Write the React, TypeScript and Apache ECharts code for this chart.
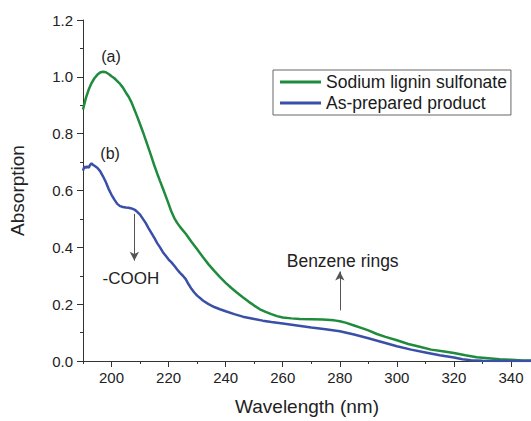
import React, { useEffect, useRef } from "react";
import * as echarts from "echarts";

const greenX = [190, 191, 192, 193, 194, 195, 196, 197, 198, 199, 200, 201, 202, 203, 204, 205, 206, 207, 208, 209, 210, 211, 212, 213, 214, 215, 216, 217, 218, 219, 220, 221, 222, 223, 224, 226, 228, 230, 232, 234, 236, 238, 240, 242, 244, 246, 248, 250, 252, 254, 256, 258, 260, 263, 266, 270, 274, 278, 280, 282, 285, 288, 290, 293, 296, 300, 304, 308, 312, 316, 320, 324, 328, 332, 336, 340, 344, 347];
const greenY = [0.885, 0.925, 0.955, 0.978, 0.995, 1.007, 1.015, 1.018, 1.016, 1.01, 1.002, 0.995, 0.985, 0.975, 0.962, 0.945, 0.93, 0.91, 0.885, 0.86, 0.833, 0.806, 0.777, 0.748, 0.718, 0.688, 0.66, 0.633, 0.607, 0.58, 0.553, 0.525, 0.503, 0.486, 0.472, 0.448, 0.42, 0.393, 0.366, 0.34, 0.317, 0.295, 0.275, 0.257, 0.24, 0.224, 0.209, 0.195, 0.182, 0.173, 0.165, 0.158, 0.153, 0.15, 0.148, 0.147, 0.146, 0.143, 0.14, 0.135, 0.125, 0.115, 0.108, 0.095, 0.085, 0.073, 0.06, 0.05, 0.04, 0.034, 0.028, 0.02, 0.013, 0.01, 0.006, 0.004, 0.002, 0.002];

const blueX = [190, 190.5, 191, 191.5, 192, 192.5, 193, 193.5, 194, 195, 196, 197, 198, 199, 200, 201, 202, 203, 204, 205, 206, 207, 208, 209, 210, 211, 212, 213, 214, 215, 216, 217, 218, 219, 220, 221, 222, 223, 224, 225, 226, 227, 228, 229, 230, 231, 232, 234, 236, 238, 240, 243, 246, 250, 253, 256, 260, 265, 270, 275, 280, 285, 290, 295, 300, 305, 310, 315, 320, 323, 326, 330, 335, 340, 347];
const blueY = [0.67, 0.685, 0.68, 0.685, 0.68, 0.69, 0.695, 0.69, 0.687, 0.68, 0.668, 0.65, 0.63, 0.605, 0.585, 0.568, 0.553, 0.545, 0.542, 0.54, 0.539, 0.537, 0.533, 0.525, 0.515, 0.5, 0.485, 0.467, 0.45, 0.433, 0.415, 0.4, 0.383, 0.37, 0.357, 0.347, 0.335, 0.322, 0.31, 0.3, 0.288, 0.27, 0.254, 0.241, 0.23, 0.222, 0.213, 0.2, 0.19, 0.182, 0.175, 0.165, 0.156, 0.148, 0.142, 0.137, 0.132, 0.125, 0.118, 0.112, 0.105, 0.093, 0.08, 0.066, 0.052, 0.04, 0.03, 0.02, 0.012, 0.006, 0.003, 0.001, 0, 0, 0];

const seriesNames = ["Sodium lignin sulfonate", "As-prepared product"];
const xMajorTicks = [200, 220, 240, 260, 280, 300, 320, 340];
const xMinorTicks = [190, 210, 230, 250, 270, 290, 310, 330];

const FONT = "Liberation Sans, Arial, sans-serif";
const GREEN = "#1f8b3c";
const BLUE = "#3a50a8";

export default function App() {
  const ref = useRef<HTMLDivElement>(null);
  useEffect(() => {
    if (!ref.current) return;
    const chart = echarts.init(ref.current, undefined, { renderer: "svg" });
    const textLabel = (coord: number[], text: string, size: number) => ({
      coord,
      symbol: "circle",
      symbolSize: 0,
      label: { show: true, position: "inside", formatter: text, color: "#222", fontSize: size, fontFamily: FONT },
    });
    chart.setOption({
      animation: false,
      backgroundColor: "#fff",
      textStyle: { fontFamily: FONT },
      grid: { left: 82, right: 0, top: 20, bottom: 58 },
      legend: {
        orient: "vertical",
        left: 273,
        top: 70,
        padding: [3, 4, 3, 7],
        itemGap: 3,
        itemWidth: 41,
        itemHeight: 3,
        icon: "rect",
        borderColor: "#666",
        borderWidth: 1,
        borderRadius: 0,
        textStyle: { fontSize: 17.5, color: "#1a1a1a", fontFamily: FONT, lineHeight: 18 },
        data: seriesNames,
      },
      xAxis: [
        {
          type: "value",
          min: 190,
          max: 347,
          name: "Wavelength (nm)",
          nameLocation: "middle",
          nameGap: 36,
          nameTextStyle: { fontSize: 19, color: "#222", fontFamily: FONT },
          splitLine: { show: false },
          axisLine: { lineStyle: { color: "#333", width: 1 } },
          axisTick: { show: true, inside: false, length: 6, customValues: xMajorTicks, lineStyle: { color: "#333" } },
          axisLabel: { customValues: xMajorTicks, fontSize: 15, color: "#222", margin: 9, fontFamily: FONT },
        },
        {
          type: "value",
          min: 190,
          max: 347,
          position: "bottom",
          splitLine: { show: false },
          axisLine: { show: false },
          axisTick: { show: true, length: 3, customValues: xMinorTicks, lineStyle: { color: "#333" } },
          axisLabel: { show: false },
        },
      ],
      yAxis: {
        type: "value",
        min: 0,
        max: 1.2,
        interval: 0.2,
        name: "Absorption",
        nameLocation: "middle",
        nameGap: 56,
        nameTextStyle: { fontSize: 19, color: "#222", fontFamily: FONT },
        splitLine: { show: false },
        axisLine: { show: true, lineStyle: { color: "#333", width: 1 } },
        axisTick: { show: true, length: 6, lineStyle: { color: "#333" } },
        minorTick: { show: true, splitNumber: 2, length: 3, lineStyle: { color: "#333" } },
        axisLabel: { fontSize: 15, color: "#222", margin: 10, formatter: (v: number) => v.toFixed(1), fontFamily: FONT },
      },
      series: [
        {
          name: seriesNames[0],
          type: "line",
          showSymbol: false,
          symbol: "none",
          data: greenX.map((x, i) => [x, greenY[i]]),
          lineStyle: { color: GREEN, width: 2.5 },
          itemStyle: { color: GREEN },
          markLine: {
            silent: true,
            symbol: ["none", "arrow"],
            symbolSize: [7, 9],
            label: { show: false },
            lineStyle: { color: "#555", width: 1, type: "solid" },
            data: [
              [{ coord: [208, 0.518] }, { coord: [208, 0.353] }],
              [{ coord: [280, 0.178] }, { coord: [280, 0.315] }],
            ],
          },
          markPoint: {
            silent: true,
            data: [
              textLabel([199.8, 1.071], "(a)", 16),
              textLabel([199.5, 0.731], "(b)", 16),
              textLabel([206.8, 0.29], "-COOH", 17),
              textLabel([281, 0.353], "Benzene rings", 17.5),
            ],
          },
        },
        {
          name: seriesNames[1],
          type: "line",
          showSymbol: false,
          symbol: "none",
          data: blueX.map((x, i) => [x, blueY[i]]),
          lineStyle: { color: BLUE, width: 2.5 },
          itemStyle: { color: BLUE },
        },
      ],
    });
    return () => chart.dispose();
  }, []);
  return <div ref={ref} style={{ width: 531, height: 421, position: "absolute", left: 0, top: 0 }} />;
}
